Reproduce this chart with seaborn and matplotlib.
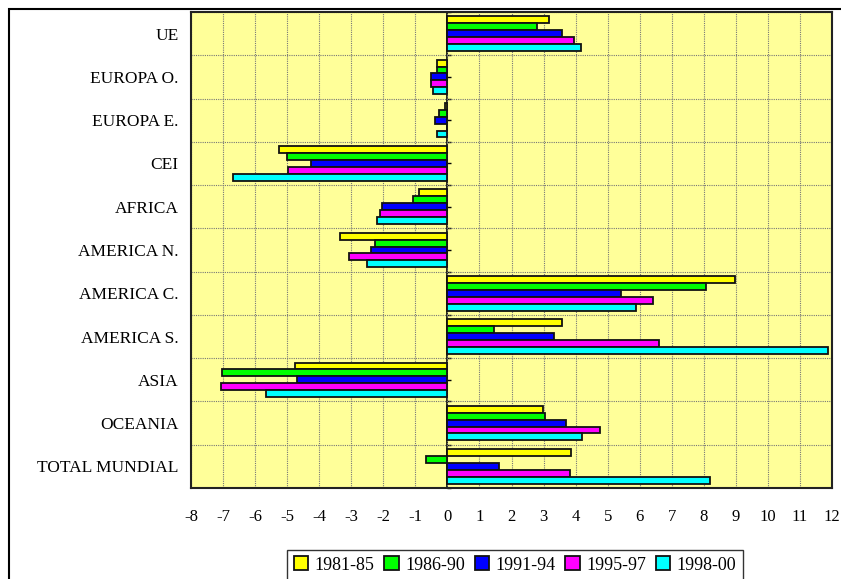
import numpy as np
import pandas as pd
import matplotlib
matplotlib.use("Agg")
import matplotlib.pyplot as plt
import seaborn as sns
from matplotlib.patches import Rectangle

# datos
regions = ["UE", "EUROPA O.", "EUROPA E.", "CEI", "AFRICA", "AMERICA N.",
           "AMERICA C.", "AMERICA S.", "ASIA", "OCEANIA", "TOTAL MUNDIAL"]
periods = ["1981-85", "1986-90", "1991-94", "1995-97", "1998-00"]

v_1981_85 = [3.18, -0.34, -0.09, -5.24, -0.88, -3.35, 8.98, 3.57, -4.77, 2.98, 3.85]
v_1986_90 = [2.80, -0.34, -0.27, -5.02, -1.06, -2.25, 8.08, 1.44, -7.02, 3.06, -0.67]
v_1991_94 = [3.57, -0.52, -0.40, -4.27, -2.03, -2.37, 5.43, 3.32, -4.70, 3.69, 1.62]
v_1995_97 = [3.95, -0.52, -0.02, -4.98, -2.11, -3.06, 6.41, 6.61, -7.06, 4.75, 3.81]
v_1998_00 = [4.16, -0.44, -0.32, -6.68, -2.19, -2.50, 5.88, 11.87, -5.67, 4.20, 8.18]

colors = ["#FFFF00", "#00FF00", "#0000FF", "#FF00FF", "#00FFFF"]
x_ticks = list(range(-8, 13))


def build_frame():
    series = [v_1981_85, v_1986_90, v_1991_94, v_1995_97, v_1998_00]
    rows = []
    for period, vals in zip(periods, series):
        for reg, v in zip(regions, vals):
            rows.append({"region": reg, "period": period, "value": v})
    return pd.DataFrame(rows)


df = build_frame()

plt.rcParams["font.family"] = ["Liberation Serif", "DejaVu Serif"]

fig = plt.figure(figsize=(8.41, 5.79), dpi=100)
ax = fig.add_axes([191 / 841, 1 - 488 / 579, (832 - 191) / 841, (488 - 12) / 579])

sns.barplot(data=df, x="value", y="region", hue="period", orient="h",
            palette=colors, saturation=1, edgecolor="#111111", linewidth=1.3,
            width=0.8, ax=ax)

ax.set_facecolor("#FFFF99")
ax.set_xlim(-8, 12)
ax.set_ylim(len(regions) - 0.5, -0.5)
ax.set_xticks(x_ticks)
ax.set_xticklabels([str(t) for t in x_ticks], fontsize=12)
ax.set_xlabel("")
ax.set_ylabel("")
ax.tick_params(axis="x", length=0, pad=15)
ax.tick_params(axis="y", length=0, pad=9, labelsize=12.5)

# rejilla
ax.set_yticks(np.arange(-0.5, len(regions)), minor=True)
ax.grid(axis="x", which="major", color="#777777", linestyle=(0, (1, 1)), linewidth=0.8)
ax.grid(axis="y", which="minor", color="#777777", linestyle=(0, (1, 1)), linewidth=0.8)
ax.grid(axis="y", which="major", visible=False)
ax.tick_params(axis="y", which="minor", length=0)
ax.set_axisbelow(True)
for sp in ax.spines.values():
    sp.set_color("#222222")
    sp.set_linewidth(1.5)

# eje del cero con marcas
sec = ax.secondary_yaxis(8 / 20)
sec.set_yticks(list(range(len(regions))) + list(np.arange(-0.5, len(regions))))
sec.set_yticklabels([])
sec.tick_params(direction="in", length=3, width=1, color="black")
sec.spines["left"].set_linewidth(1.2)
sec.spines["left"].set_color("black")

handles, labels = ax.get_legend_handles_labels()
ax.get_legend().remove()
leg = fig.legend(handles, labels, ncol=5, loc="upper center",
                 bbox_to_anchor=(515 / 841, 1 - 550 / 579), fontsize=13,
                 frameon=True, fancybox=False, edgecolor="black",
                 handlelength=0.8, handleheight=0.8, handletextpad=0.35,
                 columnspacing=0.55, borderpad=0.35, borderaxespad=0)
leg.get_frame().set_linewidth(1)

# marco del grafico
fig.patches.append(Rectangle((9 / 841, -0.1), 2, 1 - 9 / 579 + 0.1,
                             transform=fig.transFigure, fill=False,
                             edgecolor="black", linewidth=1.5))

fig.savefig("out.png", dpi=100)
